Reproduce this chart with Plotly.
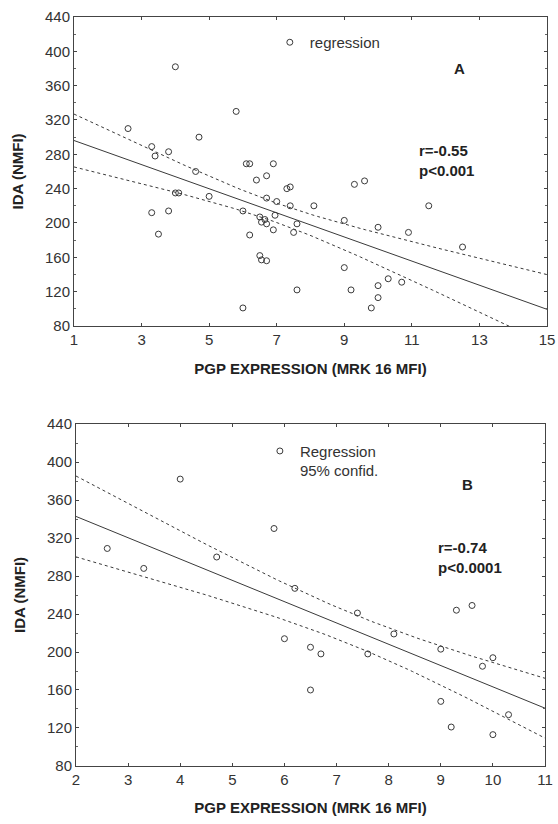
import numpy as np
import plotly.graph_objects as go

# ---------------- Panel A data ----------------
pgp_A = [2.6, 4.0, 5.8, 3.3, 3.4, 3.8, 4.7, 4.6, 6.1, 6.2, 6.9, 6.4, 6.7,
         4.0, 4.1, 5.0, 6.7, 3.3, 3.5, 3.8, 6.0, 6.2, 6.5, 6.55, 6.65, 6.7,
         6.9, 6.95, 6.5, 6.55, 6.7, 6.0, 7.0, 7.3, 7.4, 9.3, 9.6, 7.4, 8.1,
         11.5, 7.6, 7.5, 9.0, 10.0, 10.9, 12.5, 9.0, 7.6, 9.2, 10.3, 10.7,
         10.0, 10.0, 9.8]
ida_A = [310, 382, 330, 289, 278, 283, 300, 260, 269, 269, 269, 250, 255,
         235, 235, 231, 229, 212, 187, 214, 214, 186, 207, 201, 204, 199,
         192, 209, 162, 157, 156, 101, 225, 240, 242, 245, 249, 220, 220,
         220, 199, 189, 203, 195, 189, 172, 148, 122, 122, 135, 131,
         127, 113, 101]

# ---------------- Panel B data ----------------
pgp_B = [2.6, 3.3, 4.0, 4.7, 5.8, 6.2, 7.4, 9.3, 9.6, 6.0, 6.5, 6.7, 6.5,
         7.6, 8.1, 9.0, 9.8, 10.0, 9.0, 9.2, 10.0, 10.3]
ida_B = [309, 288, 382, 300, 330, 267, 241, 244, 249, 214, 205, 198, 160,
         198, 219, 203, 185, 194, 148, 121, 113, 134]

y_ticks = [80, 120, 160, 200, 240, 280, 320, 360, 400, 440]
x_ticks_A = [1, 3, 5, 7, 9, 11, 13, 15]
x_ticks_B = [2, 3, 4, 5, 6, 7, 8, 9, 10, 11]
x_range_A = [1, 15]
x_range_B = [2, 11]


def fit_with_ci(x, y, xr, t):
    x = np.asarray(x, float)
    y = np.asarray(y, float)
    n = len(x)
    b, a = np.polyfit(x, y, 1)
    resid = y - (a + b * x)
    s = np.sqrt(np.sum(resid ** 2) / (n - 2))
    xm = x.mean()
    sxx = np.sum((x - xm) ** 2)
    xs = np.linspace(xr[0], xr[1], 100)
    yh = a + b * xs
    se = s * np.sqrt(1.0 / n + (xs - xm) ** 2 / sxx)
    return xs, yh, yh - t * se, yh + t * se


INK = "#3a3a3a"
FONT = "Liberation Sans, Arial, sans-serif"
fig = go.Figure()

panels = [
    (pgp_A, ida_A, x_range_A, "x", "y", "legend", "regression", 1.67),
    (pgp_B, ida_B, x_range_B, "x2", "y2", "legend2", "Regression<br>95% confid.", 1.62),
]
for (px, py, xr, xa, ya, lg, name, t) in panels:
    xs, yh, lo, hi = fit_with_ci(px, py, xr, t)
    fig.add_trace(go.Scatter(x=px, y=py, mode="markers", xaxis=xa, yaxis=ya,
                             marker=dict(symbol="circle-open", size=6,
                                         color=INK, line=dict(width=1)),
                             name=name, legend=lg, showlegend=True))
    fig.add_trace(go.Scatter(x=xs, y=yh, mode="lines", xaxis=xa, yaxis=ya,
                             line=dict(color=INK, width=1), showlegend=False,
                             legend=lg))
    for band in (hi, lo):
        fig.add_trace(go.Scatter(x=xs, y=band, mode="lines", xaxis=xa, yaxis=ya,
                                 line=dict(color=INK, width=1, dash="dot"),
                                 showlegend=False, legend=lg))

tickfont = dict(family=FONT, size=15, color="#333")
titlefont = dict(family=FONT, size=15, color="#222")

axis_common = dict(showline=True, linecolor="#444", linewidth=1, mirror="ticks",
                   ticks="inside", ticklen=3, tickcolor="#444", showgrid=False,
                   zeroline=False, tickfont=tickfont, automargin=False)

legend_common = dict(xanchor="left", yanchor="top", bgcolor="rgba(0,0,0,0)",
                     font=dict(family=FONT, size=15, color="#333"),
                     itemwidth=30, tracegroupgap=0, valign="top")

fig.update_layout(
    width=558, height=824,
    margin=dict(l=74, r=11, t=17, b=58, autoexpand=False),
    paper_bgcolor="white", plot_bgcolor="white",
    xaxis=dict(domain=[0, 1], range=x_range_A, tickvals=x_ticks_A, anchor="y",
               title=dict(text="<b>PGP EXPRESSION (MRK 16 MFI)</b>", font=titlefont,
                          standoff=16),
               **axis_common),
    yaxis=dict(domain=[0.5875, 1.0], range=[80, 440], tickvals=y_ticks, anchor="x",
               minor=dict(ticks="inside", ticklen=2, dtick=20, tickcolor="#666"),
               title=dict(text="<b>IDA (NMFI)</b>", font=titlefont, standoff=17),
               **axis_common),
    xaxis2=dict(domain=[0.0042, 0.9958], range=x_range_B, tickvals=x_ticks_B, anchor="y2",
                title=dict(text="<b>PGP EXPRESSION (MRK 16 MFI)</b>", font=titlefont,
                           standoff=15),
                **axis_common),
    yaxis2=dict(domain=[0, 0.4566], range=[80, 440], tickvals=y_ticks, anchor="x2",
                minor=dict(ticks="inside", ticklen=2, dtick=20, tickcolor="#666"),
                title=dict(text="<b>IDA (NMFI)</b>", font=titlefont, standoff=17),
                **axis_common),
    legend=dict(x=0.414, y=0.988, **legend_common),
    legend2=dict(x=0.393, y=0.4423, **legend_common),
    showlegend=True,
)

ann_font = dict(family=FONT, size=15, color="#222")
fig.add_annotation(text="<b>A</b>", x=12.42, y=380, xref="x", yref="y",
                   showarrow=False, font=ann_font, xanchor="center")
fig.add_annotation(text="<b>r=-0.55<br>p<0.001</b>", x=11.15, y=273, xref="x", yref="y",
                   showarrow=False, font=ann_font, xanchor="left", align="left")
fig.add_annotation(text="<b>B</b>", x=9.52, y=376, xref="x2", yref="y2",
                   showarrow=False, font=ann_font, xanchor="center")
fig.add_annotation(text="<b>r=-0.74<br>p<0.0001</b>", x=8.91, y=300, xref="x2", yref="y2",
                   showarrow=False, font=ann_font, xanchor="left", align="left")

fig.write_html("out.html", config={"displayModeBar": False},
               post_script="document.body.style.margin='0px';document.body.style.overflow='hidden';")
